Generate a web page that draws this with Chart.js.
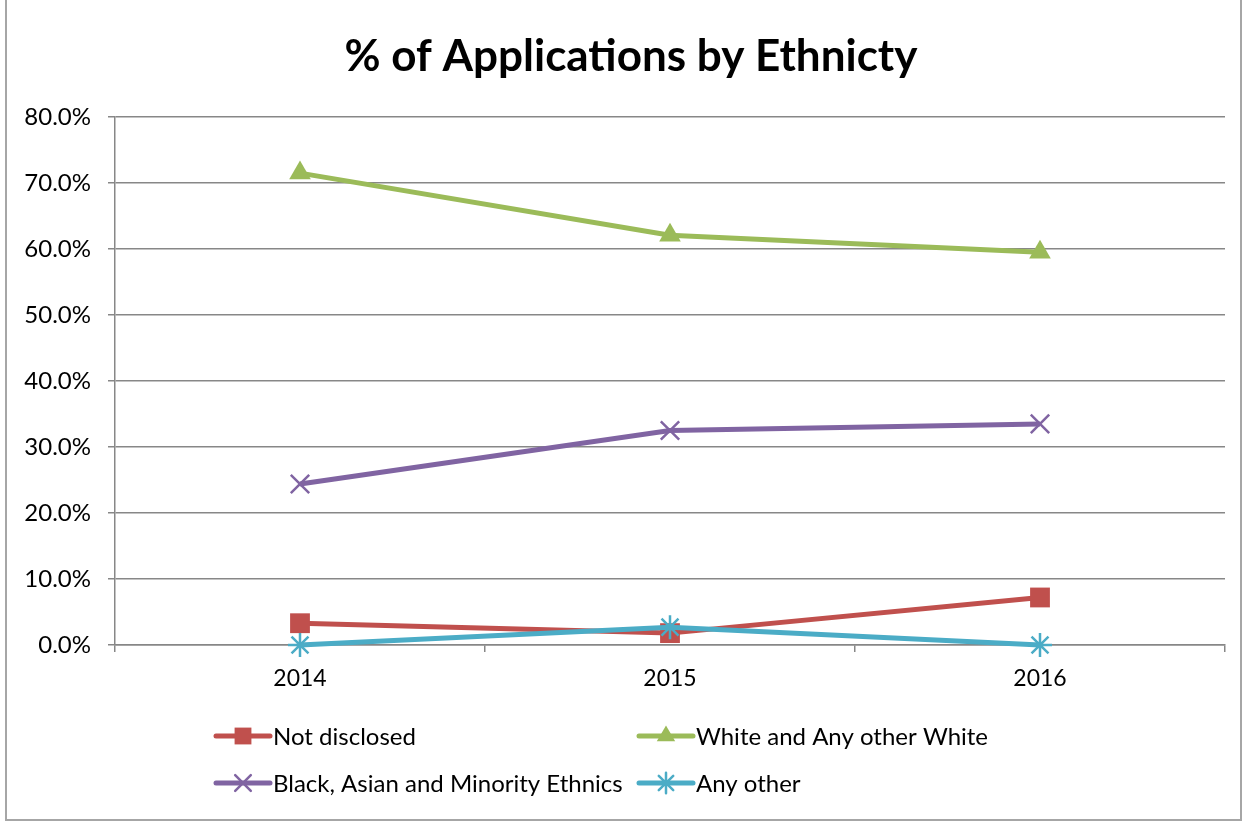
<!DOCTYPE html>
<html lang="en">
<head>
    <meta charset="UTF-8"/>
    <title>% of Applications by Ethnicty</title>
    <script src="https://cdn.jsdelivr.net/npm/chart.js"></script>
    <style>
        html, body { margin: 0; padding: 0; background: #fff; }
        .moldura { position: absolute; left: 5px; top: -3px; width: 1233px; height: 820px; border: 2px solid #a6a6a6; }
        .grafico { position: absolute; left: 0; top: 0; width: 1248px; height: 821px; }
    </style>
</head>
<body>
<div class="moldura"></div>
<div class="grafico"><canvas id="graficoEtnia" width="1248" height="821"></canvas></div>

<script>
    // Dados do gráfico (% de candidaturas por etnia)
    const anos = ['2014', '2015', '2016'];
    const naoDivulgado = [3.3, 1.8, 7.2];
    const brancos = [71.5, 62.1, 59.5];
    const minorias = [24.4, 32.5, 33.5];
    const outros = [0, 2.7, 0];
    const nomesSeries = ['Not disclosed', 'White and Any other White', 'Black, Asian and Minority Ethnics', 'Any other'];
    const titulo = '% of Applications by Ethnicty';

    const cinza = '#878787';
    const fonte = 'Lato, "Liberation Sans", sans-serif';

    // Título e legenda desenhados à mão, em grade de 2 colunas
    const extras = {
        id: 'extras',
        afterDraw(chart) {
            const ctx = chart.ctx;
            ctx.save();
            ctx.fillStyle = '#000';
            ctx.font = 'bold 44px ' + fonte;
            ctx.textAlign = 'center';
            ctx.textBaseline = 'middle';
            ctx.fillText(titulo, 631, 57);

            const colunas = [214, 637];
            const linhas = [736, 783];
            ctx.font = '24px ' + fonte;
            ctx.textAlign = 'left';
            chart.data.datasets.forEach((ds, i) => {
                const x = colunas[i % 2];
                const y = linhas[Math.floor(i / 2)];
                ctx.strokeStyle = ds.borderColor;
                ctx.lineWidth = 5;
                ctx.lineCap = 'round';
                ctx.beginPath();
                ctx.moveTo(x + 2, y);
                ctx.lineTo(x + 56, y);
                ctx.stroke();
                ctx.fillStyle = ds.pointBackgroundColor;
                ctx.strokeStyle = ds.pointBorderColor;
                ctx.lineWidth = ds.pointBorderWidth;
                Chart.helpers.drawPoint(ctx, {
                    pointStyle: ds.pointStyle,
                    radius: ds.pointRadius * 0.85,
                    rotation: 0,
                    borderWidth: ds.pointBorderWidth
                }, x + 29, y);
                ctx.fillStyle = '#000';
                ctx.fillText(ds.label, x + 59, y + 1);
            });
            ctx.restore();
        }
    };

    function serie(nome, valores, cor, estilo, raio, ordem) {
        const cheio = estilo === 'rect' || estilo === 'triangle';
        return {
            label: nome,
            data: valores,
            borderColor: cor,
            borderWidth: 5,
            backgroundColor: cor,
            pointStyle: estilo,
            pointRadius: raio,
            pointHoverRadius: raio,
            pointBackgroundColor: cor,
            pointBorderColor: cor,
            pointBorderWidth: cheio ? 0 : 2.5,
            tension: 0,
            clip: false,
            order: ordem
        };
    }

    const ctx = document.getElementById('graficoEtnia').getContext('2d');
    new Chart(ctx, {
        type: 'line',
        data: {
            labels: anos,
            datasets: [
                serie(nomesSeries[0], naoDivulgado, '#c0504d', 'rect', 14, 4),
                serie(nomesSeries[1], brancos, '#9bbb59', 'triangle', 12.5, 3),
                serie(nomesSeries[2], minorias, '#8064a2', 'crossRot', 13, 2),
                serie(nomesSeries[3], outros, '#4bacc6', 'star', 12, 1)
            ]
        },
        options: {
            responsive: false,
            animation: false,
            layout: { padding: { top: 117, right: 23, bottom: 0, left: 0 } },
            plugins: {
                legend: { display: false },
                title: { display: false },
                tooltip: { enabled: false }
            },
            scales: {
                x: {
                    offset: true,
                    afterFit(scale) { scale.height = 176; },
                    grid: { offset: true, drawOnChartArea: false, color: cinza, lineWidth: 1.5, tickLength: 7 },
                    border: { color: cinza, width: 1.5 },
                    ticks: { color: '#000', font: { family: fonte, size: 23 }, padding: 13 }
                },
                y: {
                    min: 0,
                    max: 80,
                    afterFit(scale) { scale.width = 115; },
                    grid: { color: cinza, lineWidth: 1.5, tickLength: 7 },
                    border: { color: cinza, width: 1.5 },
                    ticks: {
                        stepSize: 10,
                        color: '#000',
                        font: { family: fonte, size: 24 },
                        padding: 17,
                        callback: value => value.toFixed(1) + '%'
                    }
                }
            }
        },
        plugins: [extras]
    });
</script>
</body>
</html>
